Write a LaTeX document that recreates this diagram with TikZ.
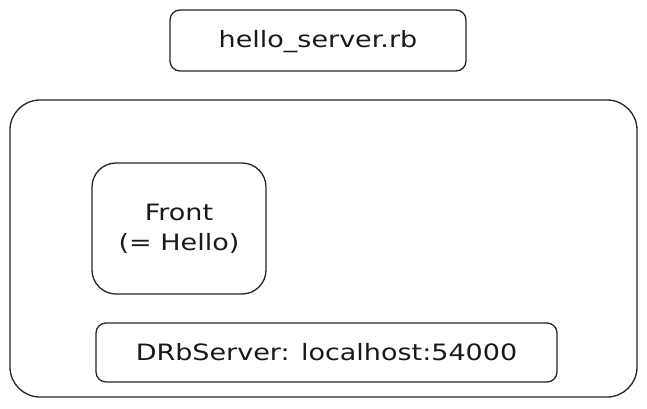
\documentclass[tikz,border=0pt]{standalone}
\usepackage{fontspec}
\setmainfont{DejaVu Sans}
\newfontfamily\lblfont[FakeStretch=1.2]{DejaVu Sans}
\begin{document}
\begin{tikzpicture}[x=1pt,y=-1pt,
  boxst/.style={draw=black!85,line width=1.3pt,fill=white,inner sep=0pt},
  lbl/.style={font=\lblfont\fontsize{22.5}{30}\selectfont,text=black!90,align=center}]
\useasboundingbox (0,0) rectangle (647,409);
\node[boxst,rounded corners=10pt,minimum width=296pt,minimum height=61pt] (file) at (318,40.5) {};
\node[lbl] (filet) at (318,42) {hello\_server.rb};
\node[boxst,rounded corners=30pt,minimum width=627pt,minimum height=297pt] (proc) at (323.5,248.5) {};
\node[boxst,rounded corners=24pt,minimum width=174pt,minimum height=131pt] (front) at (179,228.5) {};
\node[lbl] (frontt) at (front.center) {Front\\(= Hello)};
\node[boxst,rounded corners=10pt,minimum width=461pt,minimum height=59pt] (drb) at (326.5,352.5) {};
\node[lbl] (drbt) at (drb.center) {DRbServer: localhost:54000};
\end{tikzpicture}
\end{document}
